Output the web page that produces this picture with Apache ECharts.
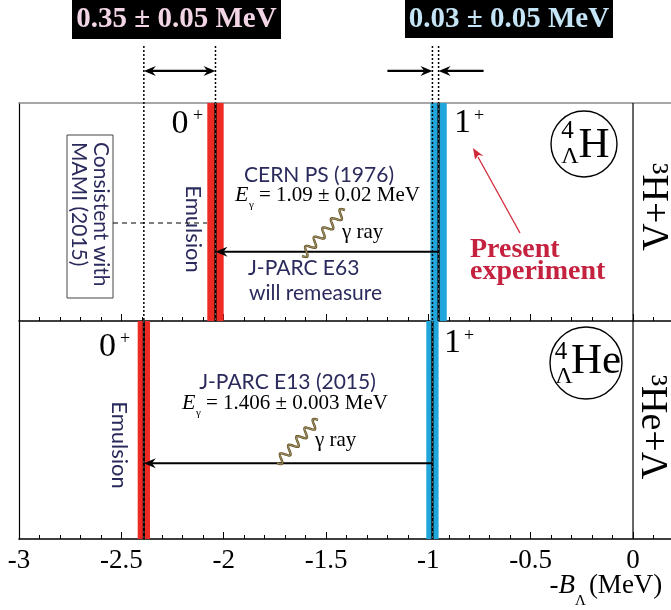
<!DOCTYPE html>
<html><head><meta charset="utf-8">
<script src="https://cdn.jsdelivr.net/npm/echarts@6/dist/echarts.min.js"></script>
<style>html,body{margin:0;padding:0;background:#fff}#c{width:671px;height:610px}</style>
</head><body><div id="c"></div>
<script>
// ---------------- data ----------------
const panelNames = ['4ΛH', '4ΛHe'];              // top, bottom
const groundLevel = [-2.04, -2.39];               // 0+ state, -B_Λ (MeV)
const groundErr = [0.04, 0.03];
const excitedLevel = [-0.95, -0.98];              // 1+ state, -B_Λ (MeV)
const excitedErr = [0.04, 0.03];
const thresholdLevel = [0, 0];                    // 3H+Λ, 3He+Λ
const tickLabels = [-3, -2.5, -2, -1.5, -1, -0.5, 0];
const gammaEnergyText = ['= 1.09 ± 0.02 MeV', '= 1.406 ± 0.003 MeV'];
const experimentText = [['CERN PS (1976)'], ['J-PARC E13 (2015)']];
const diffText = ['0.35 ± 0.05 MeV', '0.03 ± 0.05 MeV'];

// ---------------- layout / style ----------------
const SERIF = '"Liberation Serif","Times New Roman",serif';
const SANS = 'Lato,"Open Sans",sans-serif';
const NAVY = '#2a2a5c';
const RED = '#ee2a24', BLUE = '#21a6dc';
const GRID_LEFT = 19, GRID_W = 716.35, PANEL_H = 218, TOP0 = 103, TOP1 = 321;
const ANN_TOP = 1.2615, ANN_ARROW = 1.147, SIDE_ARROW = 0.22;
const TRANS_Y = [0.318, 0.347];

const chart = echarts.init(document.getElementById('c'), null, {renderer: 'canvas'});

function head(tip, dir, len, w, notch) {
  const px = -dir[1], py = dir[0];
  const bx = tip[0] - dir[0] * len, by = tip[1] - dir[1] * len;
  const nx = tip[0] - dir[0] * (len - notch), ny = tip[1] - dir[1] * (len - notch);
  return {type: 'polygon', shape: {points: [tip, [bx + px * w, by + py * w], [nx, ny], [bx - px * w, by - py * w]]},
          style: {fill: '#000'}};
}
function arrow(from, to, lw, twoSided) {
  const dx = to[0] - from[0], dy = to[1] - from[1], d = Math.hypot(dx, dy);
  const u = [dx / d, dy / d];
  const L = 12, W = 5, N = 4;
  const e = [to[0] - u[0] * (L - N), to[1] - u[1] * (L - N)];
  const s = twoSided ? [from[0] + u[0] * (L - N), from[1] + u[1] * (L - N)] : from;
  const ch = [{type: 'line', shape: {x1: s[0], y1: s[1], x2: e[0], y2: e[1]}, style: {stroke: '#000', lineWidth: lw}},
              head(to, u, L, W, N)];
  if (twoSided) ch.push(head(from, [-u[0], -u[1]], L, W, N));
  return ch;
}

function axisX(gi, showLabel) {
  return {
    gridIndex: gi, type: 'value', min: -3, max: 0.5, interval: 0.5, position: 'bottom',
    axisLine: {show: true, onZero: false, lineStyle: {color: '#000', width: 1.5}},
    axisTick: {show: true, inside: true, length: 7, lineStyle: {color: '#000', width: 1}},
    minorTick: {show: true, splitNumber: 5, length: 4, lineStyle: {color: '#000', width: 1}},
    splitLine: {show: false}, minorSplitLine: {show: false},
    axisLabel: {show: showLabel, margin: 8, fontFamily: SERIF, fontSize: 27, color: '#000',
      showMaxLabel: false, formatter: v => tickLabels.includes(+v.toFixed(2)) ? String(+v.toFixed(2)) : ''},
    name: showLabel ? '{b|-B}{l|Λ}{n|(MeV)}' : '',
    nameLocation: 'end', nameGap: -73, nameMoveOverlap: false,
    nameTextStyle: {align: 'right', verticalAlign: 'top', padding: [24, 0, 0, 0],
      rich: {
        b: {fontFamily: SERIF, fontSize: 27, fontStyle: 'italic', color: '#000', verticalAlign: 'middle', lineHeight: 30},
        l: {fontFamily: SERIF, fontSize: 15, color: '#000', verticalAlign: 'bottom', lineHeight: 46, padding: [0, 3, 0, 0]},
        n: {fontFamily: SERIF, fontSize: 27, color: '#000', verticalAlign: 'middle', lineHeight: 30}
      }}
  };
}
function axisY(gi) {
  return {gridIndex: gi, type: 'value', min: 0, max: 1, position: 'left',
    axisLine: {show: true, onZero: false, lineStyle: {color: '#000', width: 1.2}},
    axisTick: {show: false}, axisLabel: {show: false}, splitLine: {show: false}};
}

function bandSeries(p) {
  return {
    type: 'custom', xAxisIndex: p === 0 ? 0 : 2, yAxisIndex: p, z: 2, clip: true,
    data: [[groundLevel[p], groundErr[p], 0], [excitedLevel[p], excitedErr[p], 1]],
    renderItem: (params, api) => {
      const c = api.value(0), e = api.value(1), k = api.value(2);
      const a = api.coord([c - e, 1]), b = api.coord([c + e, 0]);
      const t = api.coord([c, 1]), u = api.coord([c, 0]);
      return {type: 'group', children: [
        {type: 'rect', shape: {x: a[0], y: a[1], width: b[0] - a[0], height: b[1] - a[1]}, style: {fill: k ? BLUE : RED}},
        {type: 'line', shape: {x1: t[0], y1: t[1], x2: u[0], y2: u[1]}, style: {stroke: '#000', lineWidth: 2.2}},
        {type: 'line', shape: {x1: t[0], y1: t[1], x2: u[0], y2: u[1]}, style: {stroke: '#666', lineWidth: 1, lineDash: [2, 3]}}
      ]};
    }
  };
}
function transitionSeries(p) {
  return {
    type: 'custom', xAxisIndex: p === 0 ? 0 : 2, yAxisIndex: p, z: 4, clip: false,
    data: [[excitedLevel[p], groundLevel[p], thresholdLevel[p]]],
    renderItem: (params, api) => {
      const from = api.coord([api.value(0), TRANS_Y[p]]), to = api.coord([api.value(1), TRANS_Y[p]]);
      const z0 = api.coord([api.value(2), 1]), z1 = api.coord([api.value(2), 0]);
      return {type: 'group', children: [
        {type: 'line', shape: {x1: z0[0], y1: z0[1], x2: z1[0], y2: z1[1]}, style: {stroke: '#000', lineWidth: 1.2}},
        ...arrow(from, to, 2, false)]};
    }
  };
}
const annotationSeries = {
  type: 'custom', xAxisIndex: 0, yAxisIndex: 0, z: 5, clip: false,
  data: [[groundLevel[1], groundLevel[0], excitedLevel[1], excitedLevel[0]]],
  renderItem: (params, api) => {
    const g1 = api.value(0), g0 = api.value(1), x1 = api.value(2), x0 = api.value(3);
    const dl = (x, yb) => {
      const a = api.coord([x, ANN_TOP]), b = api.coord([x, yb]);
      return {type: 'line', shape: {x1: a[0], y1: a[1], x2: b[0], y2: b[1]}, style: {stroke: '#000', lineWidth: 1.5, lineDash: [2, 2]}};
    };
    return {type: 'group', children: [
      dl(g1, 0), dl(g0, 1), dl(x1, 0), dl(x0, 1),
      ...arrow(api.coord([g1, ANN_ARROW]), api.coord([g0, ANN_ARROW]), 2.2, true),
      ...arrow(api.coord([x1 - SIDE_ARROW, ANN_ARROW]), api.coord([x1, ANN_ARROW]), 2.2, false),
      ...arrow(api.coord([x0 + SIDE_ARROW, ANN_ARROW]), api.coord([x0, ANN_ARROW]), 2.2, false)
    ]};
  }
};

// ---------- text / decorations ----------
function T(text, x, y, o) {
  o = o || {};
  return {type: 'text', x: x, y: y, rotation: o.rot || 0, z: 20,
    style: {text: text, fill: o.fill || '#000', fontFamily: o.ff || SERIF, fontSize: o.fs || 22,
      fontWeight: o.fw || 'normal', fontStyle: o.it ? 'italic' : 'normal',
      align: o.al || 'center', verticalAlign: o.va || 'middle'}};
}
function wave(p0, p1, cycles, amp) {
  const pts = [], N = 160, dx = p1[0] - p0[0], dy = p1[1] - p0[1], d = Math.hypot(dx, dy);
  const nx = -dy / d, ny = dx / d;
  for (let i = 0; i <= N; i++) {
    const t = i / N, s = amp * Math.sin(2 * Math.PI * cycles * t);
    pts.push([p0[0] + dx * t + nx * s, p0[1] + dy * t + ny * s]);
  }
  return [{type: 'polyline', z: 20, shape: {points: pts}, style: {stroke: '#5e4c1e', lineWidth: 2.4, fill: null}},
          {type: 'polyline', z: 21, shape: {points: pts}, style: {stroke: '#cfc49c', lineWidth: 0.7, fill: null}}];
}
const ROT = -Math.PI / 2;
const graphics = [
  // difference boxes
  {type: 'rect', z: 20, shape: {x: 72, y: 0, width: 209, height: 39}, style: {fill: '#000'}},
  T(diffText[0], 176.5, 20, {fs: 29, fw: 'bold', fill: '#f3d6e6'}),
  {type: 'rect', z: 20, shape: {x: 405, y: 0, width: 208, height: 38}, style: {fill: '#000'}},
  T(diffText[1], 509, 20, {fs: 29, fw: 'bold', fill: '#c5e4f6'}),
  // top panel
  T('0', 180, 124, {fs: 34}), T('+', 198, 116, {fs: 18}),
  T('1', 462.5, 123, {fs: 34}), T('+', 479, 116, {fs: 18}),
  T('Emulsion', 193, 229, {ff: SANS, fs: 22, fill: NAVY, rot: ROT}),
  {type: 'rect', z: 20, shape: {x: 67, y: 135, width: 46, height: 163}, style: {fill: '#fff', stroke: '#444', lineWidth: 1}},
  T('Consistent with', 101, 142, {ff: SANS, fs: 21, fill: NAVY, rot: ROT, al: 'left'}),
  T('MAMI (2015)', 79, 142, {ff: SANS, fs: 21, fill: NAVY, rot: ROT, al: 'left'}),
  {type: 'line', z: 20, shape: {x1: 113, y1: 223, x2: 207, y2: 223}, style: {stroke: '#000', lineWidth: 1.2, lineDash: [5, 4]}},
  T(experimentText[0][0], 319, 175, {ff: SANS, fs: 21, fill: NAVY}),
  T('E', 235, 195, {fs: 22, it: true, al: 'left'}), T('γ', 249, 205, {fs: 11, al: 'left'}),
  T(gammaEnergyText[0], 259, 195, {fs: 21, al: 'left'}),
  T('γ ray', 342, 232, {fs: 21, al: 'left'}),
  T('J-PARC E63', 248, 268, {ff: SANS, fs: 21, fill: NAVY, al: 'left'}),
  T('will remeasure', 249, 293, {ff: SANS, fs: 21, fill: NAVY, al: 'left'}),
  T('Present', 470, 250, {fs: 28, fw: 'bold', fill: '#c4223f', al: 'left'}),
  T('experiment', 470, 272, {fs: 28, fw: 'bold', fill: '#c4223f', al: 'left'}),
  {type: 'line', z: 20, shape: {x1: 520, y1: 233, x2: 478, y2: 157}, style: {stroke: '#d02a3a', lineWidth: 1.3}},
  {type: 'polygon', z: 20, shape: {points: [[473, 148], [483.5, 156], [478.5, 155], [475, 159.5]]}, style: {fill: '#d02a3a'}},
  {type: 'circle', z: 20, shape: {cx: 584, cy: 144, r: 33}, style: {fill: null, stroke: '#000', lineWidth: 1.4}},
  T('4', 567.5, 131, {fs: 25}), T('Λ', 570, 157, {fs: 24}), T('H', 594, 146, {fs: 43}),
  T('³H+Λ', 653, 207, {fs: 38, rot: ROT}),
  // bottom panel
  T('0', 107.5, 347, {fs: 34}), T('+', 125, 339, {fs: 18}),
  T('1', 452.5, 343, {fs: 34}), T('+', 469, 336, {fs: 18}),
  T('Emulsion', 119, 445, {ff: SANS, fs: 22, fill: NAVY, rot: ROT}),
  T(experimentText[1][0], 287.5, 382, {ff: SANS, fs: 21, fill: NAVY}),
  T('E', 182, 403, {fs: 22, it: true, al: 'left'}), T('γ', 196, 413, {fs: 11, al: 'left'}),
  T(gammaEnergyText[1], 206, 403, {fs: 21, al: 'left'}),
  T('γ ray', 315, 440, {fs: 21, al: 'left'}),
  {type: 'circle', z: 20, shape: {cx: 586, cy: 363, r: 36}, style: {fill: null, stroke: '#000', lineWidth: 1.4}},
  T('4', 561, 352, {fs: 25}), T('Λ', 564, 377, {fs: 24}), T('He', 596, 362, {fs: 43}),
  T('³He+Λ', 652, 427, {fs: 38, rot: ROT}),
  ...wave([302, 256], [345, 210], 5, 4.2),
  ...wave([277, 463], [318, 420], 5, 4.2)
];

chart.setOption({
  animation: false,
  backgroundColor: '#fff',
  grid: [
    {left: GRID_LEFT, top: TOP0, width: GRID_W, height: PANEL_H, outerBoundsMode: 'none', containLabel: false},
    {left: GRID_LEFT, top: TOP1, width: GRID_W, height: PANEL_H, outerBoundsMode: 'none', containLabel: false}
  ],
  xAxis: [
    axisX(0, false),
    {gridIndex: 0, type: 'value', min: -3, max: 0.5, position: 'top',
     axisLine: {show: true, onZero: false, lineStyle: {color: '#8a8a8a', width: 1.6}},
     axisTick: {show: false}, axisLabel: {show: false}, splitLine: {show: false}},
    axisX(1, true)
  ],
  yAxis: [axisY(0), axisY(1)],
  series: [bandSeries(0), bandSeries(1), transitionSeries(0), transitionSeries(1), annotationSeries],
  graphic: graphics
});
</script></body></html>
